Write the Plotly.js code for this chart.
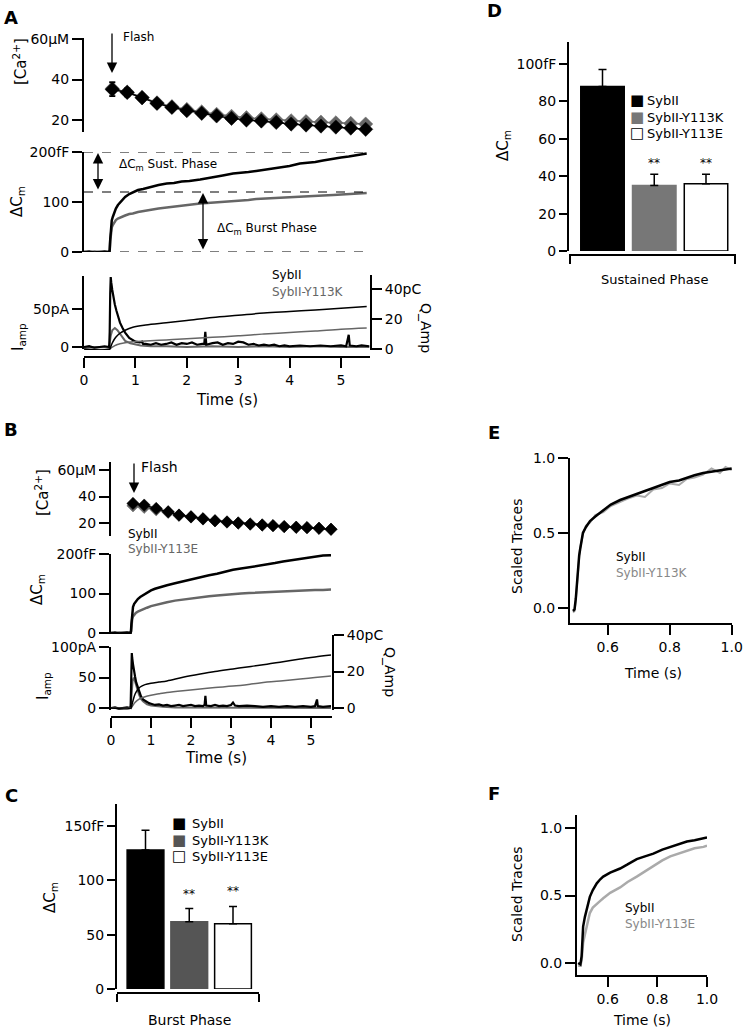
<!DOCTYPE html>
<html><head><meta charset="utf-8">
<script src="https://cdn.plot.ly/plotly-3.0.1.min.js"></script>
<style>html,body{margin:0;padding:0;background:#fff}#chart{width:744px;height:1031px}</style>
</head><body><div id="chart"></div>
<script>
// ---------------- DATA ----------------
const genotypes = ['SybII', 'SybII-Y113K', 'SybII-Y113E'];

// Panel A : [Ca2+] (µM)
const tCaA = [0.55,0.84,1.13,1.42,1.71,2.0,2.29,2.58,2.87,3.16,3.45,3.74,4.03,4.32,4.61,4.9,5.19,5.48];
const caA_SybII = [35.1,33.6,31.0,28.2,26.2,24.6,23.3,22.0,20.8,20.0,19.5,18.8,18.0,17.5,17.0,16.5,16.0,15.4];
const caA_Y113K = [35.5,33.8,31.2,28.5,26.6,25.2,24.0,22.8,21.8,21.1,20.6,20.1,19.6,19.2,18.9,18.6,18.3,18.0];
const caErrA = [3.4,2.0,1.6,1.4,1.3,1.2,1.1,1.0,1.0,1.0,1.0,1.0,1.0,1.0,1.0,1.0,1.0,1.0];

// Panel A : ΔCm (fF)
const tCmA = [0,0.1,0.2,0.3,0.4,0.49,0.5,0.51,0.52,0.53,0.54,0.56,0.59,0.62,0.66,0.7,0.75,0.8,0.88,0.95,1.05,1.15,1.25,1.35,1.45,1.61,1.75,1.9,2.05,2.26,2.4,2.55,2.7,2.9,3.05,3.2,3.35,3.56,3.7,3.85,4.0,4.2,4.35,4.5,4.65,4.85,5.0,5.15,5.3,5.5];
const cmA_SybII = [0,1,-1,0,1,0,4,25,43,55,63,70,80,87,94,99,106,110,116,120,124,126,129,131,134,137,138,141,142,145,148,150,153,157,158,160,162,165,167,169,172,177,178,180,183,187,189,191,194,197];
const cmA_Y113K = [0,-1,1,0,-1,0,3,22,38,45,49,54,59,64,67,69,71,73,76,77,80,82,84,86,87,89,91,92,94,97,98,99,101,102,103,104,106,107,107,108,109,110,111,112,113,114,115,116,117,118];
const dashLevelsA = [200, 120, 0];

// Panel A : amperometric current (pA) and charge (pC)
const tIA = [0,0.1,0.2,0.3,0.4,0.49,0.5,0.51,0.52,0.53,0.55,0.57,0.6,0.63,0.67,0.7,0.75,0.8,0.88,0.95,1.0,1.08,1.13,1.15,1.2,1.3,1.4,1.5,1.6,1.7,1.8,1.9,2.0,2.1,2.2,2.3,2.34,2.36,2.38,2.5,2.6,2.7,2.8,2.9,3.0,3.1,3.2,3.3,3.4,3.5,3.6,3.7,3.8,3.9,4.0,4.2,4.4,4.6,4.8,5.0,5.1,5.13,5.15,5.17,5.3,5.4,5.55];
const iA_SybII = [0,1,-1,0,1,0,20,70,92,85,75,66,56,48,38,32,25,19,12,9,7,6,7,4,4,3,5,3,4,6,3,5,4,6,3,4,4,20,3,5,6,3,5,4,7,6,3,4,2,3,2,3,1,2,1,2,1,2,1,2,1,10,16,2,1,2,1];
const tIgA = [0,0.2,0.4,0.49,0.5,0.52,0.55,0.6,0.65,0.7,0.75,0.8,0.9,1.0,1.1,1.3,1.6,2.0,2.5,3.0,3.5,4.0,4.5,5.0,5.55];
const iA_Y113K = [0,0,0,0,5,15,22,25,22,17,12,8,5,3,2,1,1,0,1,0,1,0,1,0,0];
const tQA = [0,0.5,0.52,0.55,0.6,0.65,0.7,0.8,0.95,1.2,1.6,2.0,2.5,3.0,3.5,4.0,4.5,5.0,5.5];
const qA_SybII = [0,0,1.5,4,7,9,10.5,12.5,14.5,16,17.5,19,21,22.5,24,25,26,27.2,28.3];
const qA_Y113K = [0,0,0.5,1.2,2.2,3,3.5,4.2,4.8,5.3,6,6.8,7.8,8.8,10,11,12,13.2,14];

// Panel B : [Ca2+]
const tCaB = [0.55,0.83,1.13,1.43,1.7,2.0,2.3,2.6,2.9,3.18,3.48,3.78,4.05,4.33,4.63,4.9,5.2,5.5];
const caB_SybII = [34.8,33.5,31,28.5,26,24.7,23.2,21.7,20.8,20,19.2,18.5,18,17.3,16.8,16.5,16,15.3];
const caB_Y113E = [33,31.8,30,28,25.8,24.5,23,21.6,20.7,20,19.2,18.5,18,17.3,16.8,16.5,16,15.3];

// Panel B : ΔCm
const tCmB = [0,0.1,0.2,0.3,0.4,0.49,0.5,0.51,0.52,0.53,0.55,0.58,0.62,0.67,0.73,0.8,0.9,1.0,1.1,1.25,1.4,1.6,1.8,2.0,2.23,2.45,2.65,2.85,3.05,3.25,3.45,3.65,3.9,4.1,4.3,4.5,4.73,4.9,5.1,5.3,5.5];
const cmB_SybII = [0,1,-1,0,1,0,5,22,40,52,66,74,81,86,91,96,103,108,112,117,121,126,131,135,141,146,150,155,160,163,166,169,173,177,181,184,188,191,194,196,197];
const cmB_Y113E = [0,-1,1,0,-1,0,3,15,30,36,42,47,51,54,57,60,64,68,71,75,78,82,85,88,91,93,95,97,99,100,101,102,104,104,105,106,107,108,109,109,110];

// Panel B : current and charge
const tIB = [0,0.1,0.2,0.3,0.4,0.49,0.5,0.51,0.52,0.53,0.55,0.57,0.6,0.63,0.67,0.7,0.75,0.8,0.88,0.95,1.0,1.1,1.2,1.3,1.4,1.5,1.6,1.7,1.8,1.9,2.0,2.1,2.2,2.3,2.34,2.36,2.38,2.5,2.6,2.7,2.8,2.9,3.0,3.05,3.1,3.2,3.4,3.6,3.8,4.0,4.2,4.4,4.6,4.8,5.0,5.1,5.13,5.15,5.17,5.3,5.5];
const iB_SybII = [0,1,-1,0,1,0,20,70,90,82,72,62,52,42,33,26,19,14,10,8,7,5,6,4,5,3,4,5,3,4,5,3,4,3,5,20,4,3,5,3,4,3,5,9,4,3,4,3,2,3,2,3,2,3,2,3,9,14,3,2,3];
const tIgB = [0,0.2,0.4,0.49,0.5,0.52,0.54,0.57,0.6,0.64,0.7,0.75,0.8,0.9,1.0,1.1,1.3,1.6,2.0,2.5,3.0,3.5,4.0,4.5,5.0,5.5];
const iB_Y113E = [0,0,0,0,8,30,45,50,45,35,22,15,11,6,4,3,2,1,1,0,1,0,1,0,1,0];
const tQB = [0,0.5,0.52,0.55,0.6,0.65,0.73,0.85,1.0,1.2,1.4,1.8,2.23,2.6,3.05,3.5,3.9,4.3,4.73,5.1,5.5];
const qB_SybII = [0,0,1.5,4,7.5,9.5,11.5,12.8,13.6,14.2,14.8,16.8,18.6,20,21.4,22.8,24,25.4,26.8,28,29];
const qB_Y113E = [0,0,0.5,1.5,3,4,5.2,6.2,7,7.8,8.5,9.5,10.4,11.2,12,13.1,14.2,15,15.9,16.7,17.5];

// Panel C : burst phase ΔCm (fF)
const barPos = [0, 1, 2];
const burstVals = [128, 62, 60];
const burstErr = [18, 12, 16];
// Panel D : sustained phase ΔCm (fF)
const sustVals = [88, 35, 36];
const sustErr = [9, 6, 5];

// Panel E : scaled traces
const tE = [0.488,0.493,0.497,0.5,0.504,0.508,0.511,0.515,0.52,0.53,0.543,0.56,0.586,0.61,0.64,0.665,0.694,0.72,0.747,0.775,0.8,0.83,0.855,0.88,0.908,0.935,0.962,0.98,1.0];
const sE_SybII = [-0.02,-0.01,0.06,0.16,0.27,0.35,0.39,0.45,0.5,0.54,0.58,0.61,0.65,0.69,0.72,0.74,0.76,0.78,0.8,0.82,0.84,0.85,0.87,0.885,0.9,0.91,0.92,0.925,0.93];
const sE_Y113K = [-0.03,-0.02,0.05,0.15,0.26,0.34,0.4,0.44,0.49,0.55,0.57,0.62,0.64,0.68,0.71,0.73,0.75,0.74,0.79,0.8,0.83,0.82,0.86,0.87,0.89,0.93,0.9,0.94,0.92];

// Panel F : scaled traces
const tF = [0.481,0.49,0.495,0.501,0.508,0.515,0.521,0.528,0.54,0.556,0.57,0.582,0.61,0.65,0.68,0.717,0.75,0.784,0.82,0.852,0.885,0.919,0.95,0.986,1.0];
const sF_SybII = [0,-0.01,0.05,0.27,0.34,0.4,0.45,0.49,0.54,0.59,0.62,0.64,0.67,0.7,0.73,0.77,0.79,0.81,0.84,0.86,0.88,0.9,0.91,0.926,0.93];
const sF_Y113E = [-0.02,-0.02,0.02,0.15,0.21,0.27,0.32,0.37,0.41,0.44,0.46,0.48,0.52,0.56,0.6,0.64,0.68,0.72,0.76,0.79,0.81,0.83,0.85,0.86,0.87];

// ---------------- STYLE / LAYOUT ----------------
const W = 744, H = 1031;
const F = 'DejaVu Sans, Liberation Sans, Arial, sans-serif';
const BLACK = '#000', DGREY = '#666', LGREY = '#aaa';
const xd = (a, b) => [a / W, b / W];
const yd = (top, bot) => [1 - bot / H, 1 - top / H];
const lin = (p1, v1, p2, v2, pa, pb) => { const s = (v2 - v1) / (p2 - p1); return [v1 + (pa - p1) * s, v1 + (pb - p1) * s]; };

const base = {showgrid:false, zeroline:false, showline:true, linecolor:BLACK, linewidth:2,
  ticks:'outside', ticklen:10, tickwidth:2, tickcolor:BLACK, fixedrange:true,
  tickfont:{family:F, size:14, color:BLACK}};
const ax = (o) => Object.assign({}, base, o);

const traces = [];
function line(x, y, xa, ya, color, width, extra) {
  traces.push(Object.assign({type:'scatter', mode:'lines', x, y, xaxis:xa, yaxis:ya,
    line:{color, width}, showlegend:false, hoverinfo:'skip'}, extra || {}));
}
function caTrace(x, y, xa, ya, color, size, err) {
  const t = {type:'scatter', mode:'lines+markers', x, y, xaxis:xa, yaxis:ya, cliponaxis:false,
    line:{color, width:1.5}, marker:{symbol:'diamond', size, color, line:{color, width:0.5}},
    showlegend:false, hoverinfo:'skip'};
  if (err) t.error_y = {type:'data', array:err, color, thickness:1.5, width:3};
  traces.push(t);
}

// Panel A traces
caTrace(tCaA, caA_Y113K, 'x', 'y', DGREY, 11, caErrA);
caTrace(tCaA, caA_SybII, 'x', 'y', BLACK, 11, caErrA);
line(tCmA, cmA_Y113K, 'x', 'y2', DGREY, 2.5);
line(tCmA, cmA_SybII, 'x', 'y2', BLACK, 2.5);
line(tIgA, iA_Y113K, 'x', 'y3', DGREY, 2);
line(tIA, iA_SybII, 'x', 'y3', BLACK, 2.2);
line(tQA, qA_Y113K, 'x', 'y4', DGREY, 1.5, {line:{color:DGREY, width:1.5, shape:'spline'}});
line(tQA, qA_SybII, 'x', 'y4', BLACK, 1.5, {line:{color:BLACK, width:1.5, shape:'spline'}});

// Panel B traces
caTrace(tCaB, caB_Y113E, 'x2', 'y5', DGREY, 9.5);
caTrace(tCaB, caB_SybII, 'x2', 'y5', BLACK, 9.5);
line(tCmB, cmB_Y113E, 'x2', 'y6', DGREY, 2.5);
line(tCmB, cmB_SybII, 'x2', 'y6', BLACK, 2.5);
line(tIgB, iB_Y113E, 'x2', 'y7', DGREY, 2);
line(tIB, iB_SybII, 'x2', 'y7', BLACK, 2.2);
line(tQB, qB_Y113E, 'x2', 'y8', DGREY, 1.5, {line:{color:DGREY, width:1.5, shape:'spline'}});
line(tQB, qB_SybII, 'x2', 'y8', BLACK, 1.5, {line:{color:BLACK, width:1.5, shape:'spline'}});

// Panels C and D bars
const fillC = ['#000', '#555', '#fff'], edgeC = ['#000', '#555', '#000'];
const fillD = ['#000', '#777', '#fff'], edgeD = ['#000', '#777', '#000'];
function bars(vals, errs, xa, ya, fills, edges) {
  for (let i = 0; i < vals.length; i++) {
    traces.push({type:'bar', x:[barPos[i]], y:[vals[i]], width:0.84, name:genotypes[i],
      xaxis:xa, yaxis:ya, showlegend:false, hoverinfo:'skip',
      marker:{color:fills[i], line:{color:edges[i], width:1.5}},
      error_y:{type:'data', symmetric:false, array:[errs[i]], arrayminus:[0], color:BLACK, thickness:1.5, width:4}});
  }
}
bars(burstVals, burstErr, 'x3', 'y9', fillC, edgeC);
bars(sustVals, sustErr, 'x4', 'y10', fillD, edgeD);

// Panels E and F
line(tE, sE_Y113K, 'x5', 'y11', LGREY, 2);
line(tE, sE_SybII, 'x5', 'y11', BLACK, 2.5);
line(tF, sF_Y113E, 'x6', 'y12', LGREY, 2.5);
line(tF, sF_SybII, 'x6', 'y12', BLACK, 2.5);

// axis ranges
const rxA = lin(84, 0, 341, 5, 84, 370);
const rxB = lin(111, 0, 311, 5, 111, 332);
const rxC = lin(145.5, 0, 233, 2, 117, 259);
const rxD = lin(602.5, 0, 706, 2, 569, 736);

const layout = {
  width:W, height:H, margin:{l:0, r:0, t:0, b:0},
  paper_bgcolor:'#fff', plot_bgcolor:'rgba(0,0,0,0)',
  barmode:'overlay', hovermode:false, showlegend:false,
  font:{family:F, size:14, color:BLACK},
  // ---- A
  xaxis: ax({domain:xd(84,370), range:rxA, anchor:'free', position:1-357/H, tickvals:[0,1,2,3,4,5]}),
  yaxis: ax({domain:yd(38,132), range:lin(120,20,39,60,132,38), anchor:'x', tickvals:[20,40,60], ticktext:['20','40','60µM']}),
  yaxis2: ax({domain:yd(152,252), range:lin(252,0,152,200,252,152), anchor:'x', tickvals:[0,100,200], ticktext:['0','100','200fF']}),
  yaxis3: ax({domain:yd(276,349), range:lin(347,0,309,50,349,276), anchor:'x', tickvals:[0,50], ticktext:['0','50pA']}),
  yaxis4: ax({domain:yd(275,350), range:lin(349,0,289,40,350,275), anchor:'x', side:'right', tickvals:[0,20,40], ticktext:['0','20','40pC']}),
  // ---- B
  xaxis2: ax({domain:xd(111,332), range:rxB, anchor:'free', position:1-717/H, tickvals:[0,1,2,3,4,5]}),
  yaxis5: ax({domain:yd(462,536), range:lin(523,20,470,60,536,462), anchor:'x2', tickvals:[20,40,60], ticktext:['20','40','60µM']}),
  yaxis6: ax({domain:yd(554,634), range:lin(633,0,554,200,634,554), anchor:'x2', tickvals:[0,100,200], ticktext:['0','100','200fF']}),
  yaxis7: ax({domain:yd(647,710), range:lin(708,0,647,100,710,647), anchor:'x2', tickvals:[0,50,100], ticktext:['0','50','100pA']}),
  yaxis8: ax({domain:yd(635,710), range:lin(708,0,635,40,710,635), anchor:'x2', side:'right', tickvals:[0,20,40], ticktext:['0','20','40pC']}),
  // ---- C
  xaxis3: ax({domain:xd(117,259), range:rxC, anchor:'free', position:1-993/H, ticklen:8,
    tickvals:[rxC[0]+0.01, rxC[1]-0.01], showticklabels:false}),
  yaxis9: ax({domain:yd(804,989), range:lin(989,0,826,150,989,804), anchor:'x3', ticklen:8,
    tickvals:[0,50,100,150], ticktext:['0','50','100','150fF']}),
  // ---- D
  xaxis4: ax({domain:xd(569,736), range:rxD, anchor:'free', position:1-255/H, ticklen:8,
    tickvals:[rxD[0]+0.01, rxD[1]-0.01], showticklabels:false}),
  yaxis10: ax({domain:yd(42,251), range:lin(251,0,64,100,251,42), anchor:'x4', ticklen:8,
    tickvals:[0,20,40,60,80,100], ticktext:['0','20','40','60','80','100fF']}),
  // ---- E
  xaxis5: ax({domain:xd(570,732), range:lin(607.7,0.6,731.7,1.0,570,732), anchor:'y11',
    tickvals:[0.6,0.8,1.0], ticktext:['0.6','0.8','1.0']}),
  yaxis11: ax({domain:yd(458,623), range:lin(608,0,458,1,623,458), anchor:'x5',
    tickvals:[0,0.5,1], ticktext:['0.0','0.5','1.0']}),
  // ---- F
  xaxis6: ax({domain:xd(577,707), range:lin(607.7,0.6,707,1.0,577,707), anchor:'y12',
    tickvals:[0.6,0.8,1.0], ticktext:['0.6','0.8','1.0']}),
  yaxis12: ax({domain:yd(815,975), range:lin(963,0,828,1,975,815), anchor:'x6',
    tickvals:[0,0.5,1], ticktext:['0.0','0.5','1.0']}),
  shapes: dashLevelsA.map(v => ({type:'line', xref:'x domain', x0:0, x1:1, yref:'y2', y0:v, y1:v,
    line:{color:BLACK, width:1.2, dash:'dash'}})),
  annotations: []
};

function T(text, x, y, size, o) {
  return Object.assign({xref:'paper', yref:'paper', x:x / W, y:1 - y / H, text, showarrow:false,
    xanchor:'center', yanchor:'middle', font:{family:F, size:size || 14, color:BLACK}}, o || {});
}
const L = (text, x, y, size, color) => T(text, x, y, size, {xanchor:'left', font:{family:F, size, color}});
const V = (text, x, y, size, angle) => T(text, x, y, size, {textangle:angle == null ? -90 : angle});
function arrow(x, y, ay, both) {
  const a = {xref:'paper', yref:'paper', x:x / W, y:1 - y / H, ax:0, ay, text:'', showarrow:true,
    arrowhead:2, arrowsize:1.6, arrowwidth:1.3, arrowcolor:BLACK};
  if (both) Object.assign(a, {arrowside:'end+start', startarrowhead:2, startarrowsize:1.6});
  return a;
}
const A = layout.annotations;
// panel letters
[['A',11,17],['B',11,430],['C',11,795],['D',494,11],['E',494,432],['F',494,793]].forEach(p =>
  A.push(T('<b>' + p[0] + '</b>', p[1], p[2], 18)));
// Panel A
A.push(V('[Ca<sup>2+</sup>]', 20, 62, 15));
A.push(V('ΔC<sub>m</sub>', 18, 202, 15));
A.push(V('I<sub>amp</sub>', 18, 337, 15));
A.push(V('Q_Amp', 426, 328, 14, 90));
A.push(T('Time (s)', 227, 400, 15));
A.push(L('Flash', 121, 37, 12, BLACK));
A.push(arrow(112, 73, -41));
A.push(arrow(98, 153, 38, true));
A.push(arrow(203, 193, 58, true));
A.push(L('ΔC<sub>m</sub> Sust. Phase', 117, 165, 12, BLACK));
A.push(L('ΔC<sub>m</sub> Burst Phase', 215, 229, 12, BLACK));
A.push(L('SybII', 270, 275, 12, BLACK));
A.push(L('SybII-Y113K', 270, 292, 12, DGREY));
// Panel B
A.push(V('[Ca<sup>2+</sup>]', 42, 493, 15));
A.push(V('ΔC<sub>m</sub>', 37, 590, 15));
A.push(V('I<sub>amp</sub>', 43, 686, 15));
A.push(V('Q_Amp', 390, 672, 14, 90));
A.push(T('Time (s)', 216, 758, 15));
A.push(L('Flash', 139, 467, 14, BLACK));
A.push(arrow(134, 493, -31));
A.push(L('SybII', 126, 534, 12, BLACK));
A.push(L('SybII-Y113E', 126, 549, 12, DGREY));
// Panel C
A.push(V('ΔC<sub>m</sub>', 50, 898, 15));
A.push(T('Burst Phase', 189, 1020, 14));
[1, 2].forEach(i => A.push({xref:'x3', yref:'y9', x:barPos[i], y:burstVals[i] + burstErr[i], text:'**',
  showarrow:false, yanchor:'bottom', yshift:6, font:{family:F, size:12, color:BLACK}}));
// legend C (key squares + labels)
const keyGlyph = ['■', '■', '□'];
[823, 840, 856].forEach((yy, i) => {
  A.push(T(keyGlyph[i], 179, yy, 15, {font:{family:F, size:15, color:fillC[i] === '#fff' ? BLACK : fillC[i]}}));
  A.push(L(genotypes[i], 190, yy, 13, BLACK));
});
// Panel D
A.push(V('ΔC<sub>m</sub>', 503, 145, 15));
A.push(T('Sustained Phase', 654, 280, 13));
[1, 2].forEach(i => A.push({xref:'x4', yref:'y10', x:barPos[i], y:sustVals[i] + sustErr[i], text:'**',
  showarrow:false, yanchor:'bottom', yshift:2, font:{family:F, size:12, color:BLACK}}));
[100, 117, 133].forEach((yy, i) => {
  A.push(T(keyGlyph[i], 637, yy, 15, {font:{family:F, size:15, color:fillD[i] === '#fff' ? BLACK : fillD[i]}}));
  A.push(L(genotypes[i], 645, yy, 13, BLACK));
});
// Panel E
A.push(V('Scaled Traces', 517, 547, 14));
A.push(T('Time (s)', 653, 673, 14));
A.push(L('SybII', 614, 557, 12, BLACK));
A.push(L('SybII-Y113K', 614, 573, 12, '#888'));
// Panel F
A.push(V('Scaled Traces', 517, 895, 14));
A.push(T('Time (s)', 642, 1020, 14));
A.push(L('SybII', 623, 908, 12, BLACK));
A.push(L('SybII-Y113E', 623, 924, 12, '#888'));

Plotly.newPlot('chart', traces, layout, {staticPlot:true, displayModeBar:false});
</script></body></html>
